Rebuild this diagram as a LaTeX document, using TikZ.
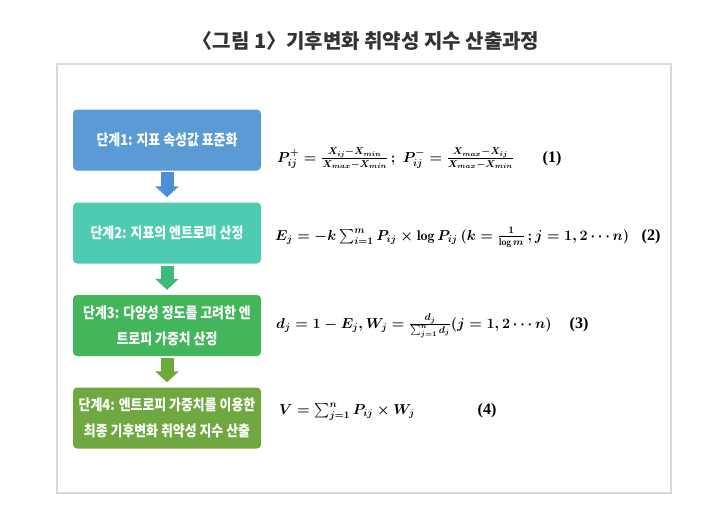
\documentclass[tikz,border=0pt]{standalone}
\usepackage{amsmath}
\usepackage{fontspec}
\usetikzlibrary{arrows.meta,calc}
\newfontfamily\kr[FakeStretch=0.86]{Noto Sans CJK KR}
\newfontfamily\krt{Noto Sans CJK KR}
\newfontfamily\numf{Liberation Serif}
\definecolor{cA}{HTML}{5B9BD5}
\definecolor{cB}{HTML}{4ECBB0}
\definecolor{cC}{HTML}{43B55A}
\definecolor{cD}{HTML}{6FA83E}
\definecolor{aA}{HTML}{4F8FD6}
\definecolor{aB}{HTML}{3FB97A}
\definecolor{aC}{HTML}{6BAA3A}
\definecolor{frameg}{HTML}{D9D9D9}
\definecolor{titleg}{HTML}{333333}
\tikzset{
  stepbox/.style={rounded corners=4pt, minimum width=188pt, minimum height=61pt,
    inner sep=2pt, align=center, text=white, font=\kr\bfseries\fontsize{15}{26}\selectfont},
  downarrow/.style={line width=13pt, -{Triangle[length=11pt,width=23pt]}},
  eqn/.style={anchor=base west, inner sep=0pt, font=\fontsize{14}{16}\selectfont\boldmath},
  eqnum/.style={anchor=base, inner sep=0pt, font=\numf\bfseries\fontsize{16}{18}\selectfont},
}
\begin{document}
\begin{tikzpicture}[x=1pt,y=-1pt]
\useasboundingbox (0,0) rectangle (720,523);
\node[inner sep=0pt, text=titleg, font=\krt\bfseries\fontsize{20}{22}\selectfont] (title) at (366,41) {〈그림 1〉기후변화 취약성 지수 산출과정};
\draw[frameg, line width=1.6pt] (57,64) rectangle (671,493);
\node[stepbox, fill=cA] (s1) at (167,140) {단계1: 지표 속성값 표준화};
\node[stepbox, fill=cB] (s2) at (167,233) {단계2: 지표의 엔트로피 산정};
\node[stepbox, fill=cC] (s3) at (167,325.5) {단계3: 다양성 정도를 고려한 엔\\트로피 가중치 산정};
\node[stepbox, fill=cD] (s4) at (167,418) {단계4: 엔트로피 가중치를 이용한\\최종 기후변화 취약성 지수 산출};
\draw[downarrow, aA] ($(s1.south)+(0,1)$) -- ($(s2.north)+(0,-5)$);
\draw[downarrow, aB] ($(s2.south)+(0,2)$) -- ($(s3.north)+(0,-5)$);
\draw[downarrow, aC] ($(s3.south)+(0,2)$) -- ($(s4.north)+(0,-5)$);
\node[eqn] (e1) at (277,162) {$P_{ij}^{+}=\frac{X_{ij}-X_{min}}{X_{max}-X_{min}}\,;\ P_{ij}^{-}=\frac{X_{max}-X_{ij}}{X_{max}-X_{min}}$};
\node[eqnum] (n1) at (552,162) {(1)};
\node[eqn] (e2) at (275,240) {$E_j=-k\sum_{i=1}^{m}P_{ij}\times\log P_{ij}\,(k=\frac{1}{\log m}\,;j=1,2\cdots n)$};
\node[eqnum] (n2) at (651,240) {(2)};
\node[eqn] (e3) at (276,328) {$d_j=1-E_j,W_j=\frac{d_j}{\sum_{j=1}^{n}d_j}(j=1,2\cdots n)$};
\node[eqnum] (n3) at (579,328) {(3)};
\node[eqn] (e4) at (279,414) {$V=\sum_{j=1}^{n}P_{ij}\times W_j$};
\node[eqnum] (n4) at (487,414) {(4)};
\end{tikzpicture}
\end{document}
